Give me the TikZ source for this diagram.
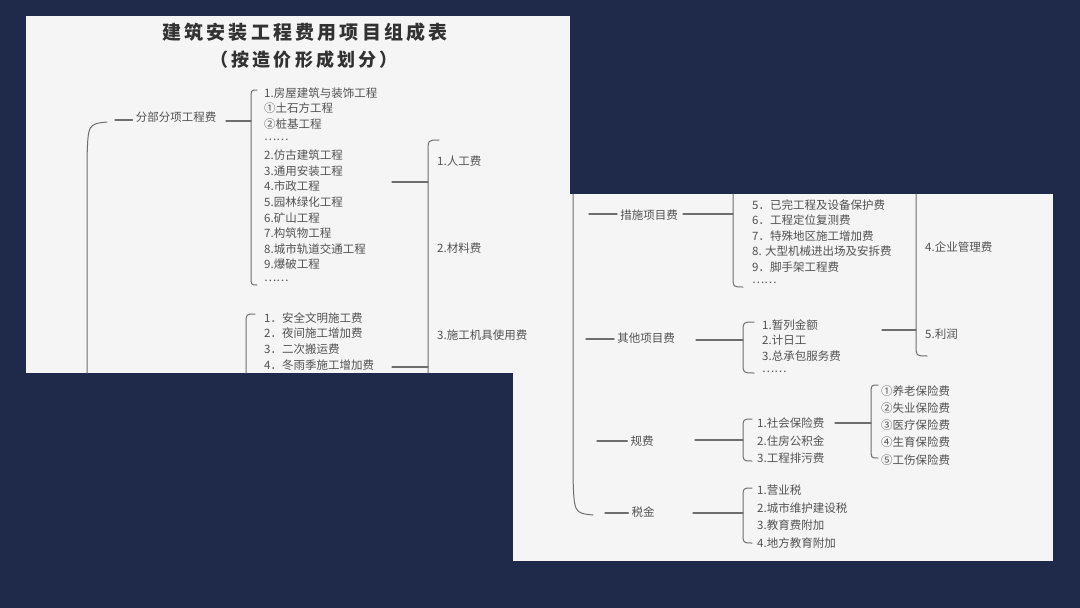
\documentclass[tikz,border=0pt]{standalone}
\usepackage{fontspec}
\newfontfamily\cjk{Noto Sans CJK SC}
\newfontfamily\cjktitle{Noto Sans CJK SC}[LetterSpace=17]

\definecolor{navy}{RGB}{31,41,74}
\definecolor{paper}{RGB}{245,245,246}
\definecolor{ink}{RGB}{82,82,82}
\definecolor{titleink}{RGB}{50,50,50}
\definecolor{rule}{RGB}{110,110,110}

% dots set at mid height, as in the scanned table
\newcommand\middots{\raisebox{0.3em}{……}}

\tikzset{
  item/.style={anchor=west, inner sep=0pt, text=ink, font=\cjk\fontsize{11.5}{14}\selectfont,
    text height=10.1pt, text depth=1.4pt},
  head/.style={item, anchor=center, inner xsep=3pt},
  title/.style={inner sep=0pt, text=titleink, font=\cjktitle\bfseries\fontsize{19}{22}\selectfont},
  link/.style={draw=rule, line width=1.2pt},
  brk/.style={draw=rule, line width=1pt},
}

\begin{document}
\begin{tikzpicture}[x=1pt,y=-1pt,line cap=round,line join=round]
  \useasboundingbox (0,0) rectangle (1080,608);
  % background and the two pages
  \fill[navy] (0,0) rectangle (1080,608);
  \fill[paper] (513,194) rectangle (1053,561);
  \fill[paper] (26,16) rectangle (570,373);

  % title
  \node[title] (ttl) at (305,32) {建筑安装工程费用项目组成表};
  \node[title, font=\cjktitle\bfseries\fontsize{18}{22}\selectfont] (ttl-sub) at (304,60) {（按造价形成划分）};

  % ---------- upper page ----------
  \draw[brk] (107,122) .. controls (88,124) .. (87,160) -- (87,373);

  % 分部分项工程费
  \node[head] (fbfx) at (176,117) {分部分项工程费};
  \coordinate (fbfx-d) at (115,120);
  \coordinate (fbfx-o) at (226,121);
  \coordinate (fbfx-j) at (251,121);
  \draw[link] (fbfx-d) -- (fbfx-d -| fbfx.west);
  \draw[link] (fbfx-o) -- (fbfx-j);
  \draw[brk] (257,90) .. controls (251,90) .. (251,100) -- (251,276) .. controls (251,285) .. (257,285);
  \foreach \t [count=\i] in {1.房屋建筑与装饰工程, ①土石方工程, ②桩基工程, \middots, 2.仿古建筑工程,
      3.通用安装工程, 4.市政工程, 5.园林绿化工程, 6.矿山工程, 7.构筑物工程, 8.城市轨道交通工程,
      9.爆破工程, \middots}{
    \node[item] (fbfx-\i) at (264,{93+15.6*(\i-1)}) {\t};
  }

  % 措施项目费, first items
  \draw[brk] (255,314) .. controls (246,314) .. (246,324) -- (246,373);
  \foreach \t [count=\i] in {1．安全文明施工费, 2．夜间施工增加费, 3．二次搬运费, 4．冬雨季施工增加费}{
    \node[item] (csxm-\i) at (264,{318+15.6*(\i-1)}) {\t};
  }

  % cost elements, first items
  \draw[brk] (439,140) .. controls (428,140) .. (428,152) -- (428,373);
  \coordinate (fbfx-r) at (392,182);
  \coordinate (cost-a) at (428,182);
  \coordinate (csxm-r) at (392,367);
  \coordinate (cost-b) at (428,367);
  \draw[link] (fbfx-r) -- (cost-a);
  \draw[link] (csxm-r) -- (cost-b);
  \node[item] (cost-1) at (437,161) {1.人工费};
  \node[item] (cost-2) at (437,248) {2.材料费};
  \node[item] (cost-3) at (437,335) {3.施工机具使用费};

  % ---------- lower page ----------
  \draw[brk] (573,194) -- (573,475) .. controls (574,513) .. (593,515);

  % 措施项目费, remaining items
  \node[head] (csxm) at (649,215) {措施项目费};
  \coordinate (csxm-d) at (589,214);
  \coordinate (csxm-o) at (683,214);
  \coordinate (csxm-j) at (733,214);
  \draw[link] (csxm-d) -- (csxm-d -| csxm.west);
  \draw[link] (csxm-o) -- (csxm-j);
  \draw[brk] (733,194) -- (733,277) .. controls (733,287) .. (743,287);
  \foreach \t [count=\i from 5] in {5．已完工程及设备保护费, 6．工程定位复测费, 7．特殊地区施工增加费,
      8. 大型机械进出场及安拆费, 9．脚手架工程费, \middots}{
    \node[item] (csxm-\i) at (752,{205+15.5*(\i-5)}) {\t};
  }

  % 其他项目费
  \node[head] (qtxm) at (646,338) {其他项目费};
  \coordinate (qtxm-d) at (586,339);
  \coordinate (qtxm-o) at (696,340);
  \coordinate (qtxm-j) at (743,340);
  \draw[link] (qtxm-d) -- (qtxm-d -| qtxm.west);
  \draw[link] (qtxm-o) -- (qtxm-j);
  \draw[brk] (754,322) .. controls (743,322) .. (743,332) -- (743,363) .. controls (743,373) .. (754,373);
  \foreach \t [count=\i] in {1.暂列金额, 2.计日工, 3.总承包服务费, \middots}{
    \node[item] (qtxm-\i) at (762,{325+15.6*(\i-1)}) {\t};
  }

  % cost elements, remaining items
  \draw[brk] (916,194) -- (916,345) .. controls (916,356) .. (927,356);
  \coordinate (qtxm-r) at (882,330);
  \coordinate (cost-c) at (916,330);
  \draw[link] (qtxm-r) -- (cost-c);
  \node[item] (cost-4) at (925,247) {4.企业管理费};
  \node[item] (cost-5) at (925,334) {5.利润};

  % 规费
  \node[head] (gf) at (642,441) {规费};
  \coordinate (gf-d) at (597,441);
  \coordinate (gf-o) at (695,440);
  \coordinate (gf-j) at (743,440);
  \draw[link] (gf-d) -- (gf-d -| gf.west);
  \draw[link] (gf-o) -- (gf-j);
  \draw[brk] (752,419) .. controls (743,419) .. (743,429) -- (743,451) .. controls (743,461) .. (752,461);
  \node[item] (gf-1) at (757,423) {1.社会保险费};
  \node[item] (gf-2) at (757,441) {2.住房公积金};
  \node[item] (gf-3) at (757,458) {3.工程排污费};

  % social insurance
  \coordinate (sb-o) at (835,423);
  \coordinate (sb-j) at (871,423);
  \draw[link] (sb-o) -- (sb-j);
  \draw[brk] (878,385) .. controls (871,385) .. (871,395) -- (871,448) .. controls (871,458) .. (878,458);
  \foreach \t [count=\i] in {①养老保险费, ②失业保险费, ③医疗保险费, ④生育保险费, ⑤工伤保险费}{
    \node[item] (sb-\i) at (881,{391+17.2*(\i-1)}) {\t};
  }

  % 税金
  \node[head] (sj) at (643,512) {税金};
  \coordinate (sj-d) at (605,513);
  \coordinate (sj-o) at (693,513);
  \coordinate (sj-j) at (743,513);
  \draw[link] (sj-d) -- (sj-d -| sj.west);
  \draw[link] (sj-o) -- (sj-j);
  \draw[brk] (752,488) .. controls (743,488) .. (743,498) -- (743,533) .. controls (743,543) .. (752,543);
  \foreach \t [count=\i] in {1.营业税, 2.城市维护建设税, 3.教育费附加, 4.地方教育附加}{
    \node[item] (sj-\i) at (757,{490+17.7*(\i-1)}) {\t};
  }
\end{tikzpicture}
\end{document}
